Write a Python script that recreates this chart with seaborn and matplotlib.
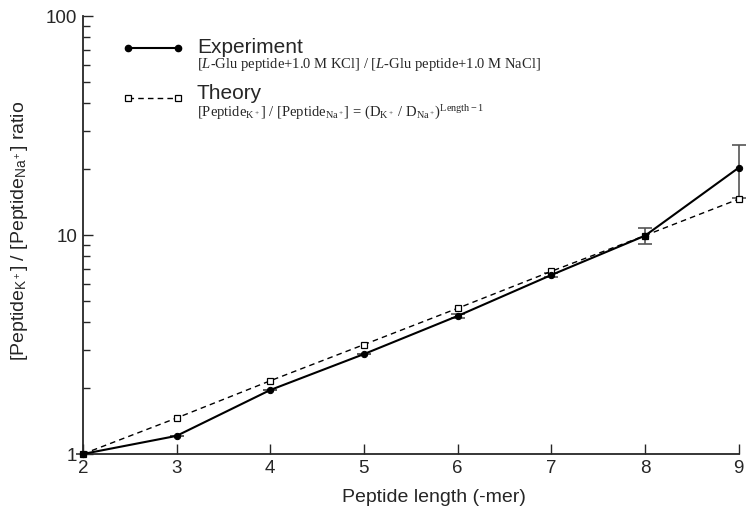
import numpy as np
import pandas as pd
import matplotlib.pyplot as plt
from matplotlib.lines import Line2D
from matplotlib.ticker import LogLocator, NullFormatter, FixedLocator
import seaborn as sns

# Valores
longitud = [2, 3, 4, 5, 6, 7, 8, 9]
experimento = [1.0, 1.21, 1.96, 2.86, 4.27, 6.57, 9.93, 20.3]
error_exp = [0.0, 0.0, 0.0, 0.0, 0.08, 0.15, 0.85, 5.5]
teoria = [1.0, 1.46, 2.16, 3.16, 4.63, 6.83, 9.95, 14.6]

data = pd.DataFrame({'longitud': longitud, 'experimento': experimento,
                     'teoria': teoria, 'error': error_exp})

sns.set_style('ticks')
plt.rcParams['font.family'] = ['Liberation Sans', 'DejaVu Sans']
plt.rcParams['mathtext.fontset'] = 'custom'
plt.rcParams['mathtext.rm'] = 'Liberation Serif'
plt.rcParams['mathtext.it'] = 'Liberation Serif:italic'
plt.rcParams['mathtext.sf'] = 'Liberation Sans'

fig = plt.figure(figsize=(7.53, 5.11), dpi=100)
ax = fig.add_axes([0.110, 0.1115, 0.871, 0.857])

# Barras de error del experimento
ax.errorbar(data['longitud'], data['experimento'], yerr=data['error'],
            fmt='none', ecolor='#555555', elinewidth=1.2, capsize=5,
            capthick=1.2, zorder=1, clip_on=False)

sns.lineplot(x='longitud', y='teoria', data=data, ax=ax, color='black',
             linestyle='--', linewidth=1.0, marker='s', markersize=4.2,
             markerfacecolor='white', markeredgecolor='black',
             markeredgewidth=0.9, zorder=2, clip_on=False)
ax.lines[-1].set_dashes((4, 3))
sns.lineplot(x='longitud', y='experimento', data=data, ax=ax, color='black',
             linewidth=1.5, marker='o', markersize=4.5,
             markeredgecolor='black', zorder=3, clip_on=False)

ax.set_yscale('log')
ax.set_xlim(2, 9)
ax.set_ylim(1, 100)
ax.xaxis.set_major_locator(FixedLocator(longitud))
ax.yaxis.set_major_locator(FixedLocator([1, 10, 100]))
ax.set_yticklabels(['1', '10', '100'])
ax.yaxis.set_minor_locator(LogLocator(base=10, subs=np.arange(2, 10)))
ax.yaxis.set_minor_formatter(NullFormatter())

sns.despine(ax=ax)
for s in ['left', 'bottom']:
    ax.spines[s].set_linewidth(1.3)
ax.tick_params(axis='both', which='major', direction='in', length=7,
               width=1.0, labelsize=13.5, pad=4)
ax.tick_params(axis='y', which='minor', direction='in', length=5, width=1.0)
ax.tick_params(axis='x', which='minor', bottom=False)

ax.set_xlabel('Peptide length (-mer)', fontsize=14)
ax.xaxis.set_label_coords(0.535, -0.079)
ax.set_ylabel(r'[Peptide$_{\mathsf{K^+}}$] / [Peptide$_{\mathsf{Na^+}}$] ratio',
              fontsize=14)
ax.yaxis.set_label_coords(-0.08, 0.51)

# Leyenda
ax.add_line(Line2D([0.0686, 0.145], [0.927, 0.927], transform=ax.transAxes,
                   color='black', linewidth=1.5, marker='o', markersize=4.5))
ax.add_line(Line2D([0.0686, 0.145], [0.813, 0.813], transform=ax.transAxes,
                   color='black', linewidth=1.0, dashes=(4, 3), marker='s',
                   markersize=4.2, markerfacecolor='white',
                   markeredgewidth=0.9))
ax.text(0.174, 0.929, 'Experiment', transform=ax.transAxes, fontsize=15,
        va='center', ha='left')
ax.text(0.174, 0.889, '[$\\it{L}$-Glu peptide+1.0 M KCl] / [$\\it{L}$-Glu peptide+1.0 M NaCl]',
        transform=ax.transAxes, fontsize=10.5, va='center', ha='left',
        family='Liberation Serif')
ax.text(0.174, 0.824, 'Theory', transform=ax.transAxes, fontsize=15,
        va='center', ha='left')
ax.text(0.174, 0.779,
        r'[Peptide$_{\mathrm{K^+}}$] / [Peptide$_{\mathrm{Na^+}}$] = (D$_{\mathrm{K^+}}$ / D$_{\mathrm{Na^+}}$)$^{\mathrm{Length-1}}$',
        transform=ax.transAxes, fontsize=10.5, va='center', ha='left',
        family='Liberation Serif')

plt.savefig('out.png', dpi=100)
